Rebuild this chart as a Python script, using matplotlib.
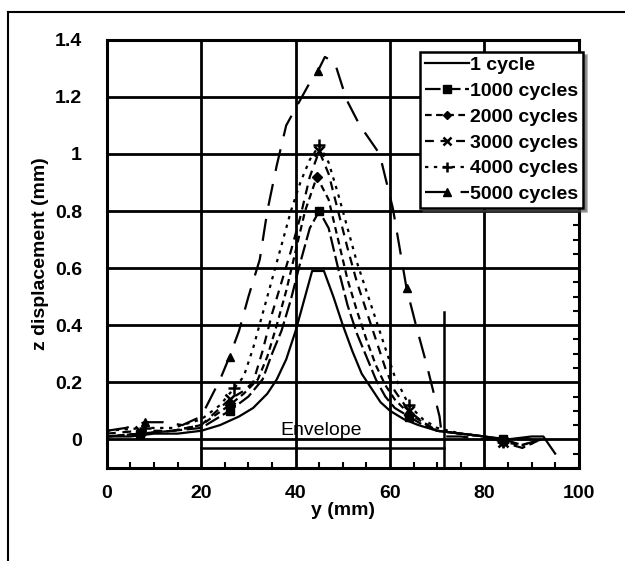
import matplotlib.pyplot as plt
from matplotlib.lines import Line2D

plt.rcParams['font.family'] = ['Liberation Sans', 'DejaVu Sans']
plt.rcParams['font.weight'] = 'bold'

# 1 cycle
x1 = [0, 5, 10, 15, 20, 24, 28, 31, 34, 36, 38, 40, 42, 43.5, 46, 48, 50, 52, 54, 56,
      58, 60, 63, 66, 70, 75, 80, 85, 90, 92.5, 95]
y1 = [0.01, 0.01, 0.02, 0.02, 0.03, 0.05, 0.08, 0.11, 0.16, 0.21, 0.28, 0.38, 0.50, 0.59,
      0.59, 0.50, 0.40, 0.31, 0.23, 0.18, 0.13, 0.10, 0.07, 0.05, 0.03, 0.02, 0.01, 0.00,
      0.01, 0.01, -0.05]
# 1000 cycles
x2 = [0, 7, 14, 20, 26, 30, 33, 35, 37, 39, 41, 43, 45, 47, 49, 51, 53, 55, 57, 59, 61,
      64, 67, 70, 75, 80, 84, 88, 92]
y2 = [0.01, 0.02, 0.03, 0.04, 0.10, 0.15, 0.21, 0.30, 0.38, 0.49, 0.62, 0.74, 0.80, 0.74,
      0.60, 0.47, 0.37, 0.29, 0.21, 0.15, 0.11, 0.08, 0.05, 0.03, 0.02, 0.01, 0.00, -0.02, 0.00]
# 2000 cycles
x3 = [0, 7, 14, 20, 26, 29, 32, 34, 36, 38, 40, 42, 44.5, 47, 49, 51, 53, 55, 57, 59, 61,
      64, 67, 70, 75, 80, 84, 88, 92]
y3 = [0.01, 0.02, 0.03, 0.05, 0.12, 0.16, 0.21, 0.29, 0.40, 0.52, 0.66, 0.80, 0.92, 0.84,
      0.70, 0.56, 0.45, 0.35, 0.26, 0.19, 0.14, 0.09, 0.06, 0.03, 0.02, 0.01, -0.01, -0.02, 0.00]
# 3000 cycles
x4 = [0, 7, 14, 20, 26, 29, 31, 33, 35, 37, 39, 41, 43, 45, 47, 49, 51, 53, 55, 57, 59,
      61, 64, 67, 70, 75, 80, 84, 88, 92]
y4 = [0.02, 0.03, 0.03, 0.05, 0.14, 0.17, 0.20, 0.31, 0.44, 0.55, 0.66, 0.78, 0.92, 1.01,
      0.93, 0.80, 0.67, 0.55, 0.45, 0.35, 0.25, 0.17, 0.10, 0.06, 0.03, 0.02, 0.01, -0.01,
      -0.03, 0.00]
# 4000 cycles
x5 = [0, 8, 14, 20, 24, 27, 29, 31, 33, 35, 37, 39, 41, 43, 45, 47, 49, 51, 53, 55, 57,
      59, 61, 64, 67, 70, 75, 80, 84, 88, 92]
y5 = [0.03, 0.04, 0.04, 0.07, 0.12, 0.18, 0.22, 0.32, 0.44, 0.56, 0.68, 0.80, 0.90, 0.98,
      1.03, 0.97, 0.86, 0.74, 0.62, 0.52, 0.42, 0.32, 0.22, 0.12, 0.07, 0.04, 0.02, 0.01,
      -0.01, -0.03, 0.00]
# 5000 cycles
x6 = [0, 4, 8, 12, 16, 20, 24, 26, 28, 30, 32.4, 34, 36, 38, 41, 43, 44.7, 46.2, 48.3,
      50.8, 53.6, 55.3, 57.8, 60.6, 63.5, 65.5, 67.8, 70.5, 71, 75, 80, 85, 90]
y6 = [0.03, 0.04, 0.06, 0.06, 0.05, 0.08, 0.21, 0.29, 0.38, 0.50, 0.63, 0.80, 0.96, 1.10,
      1.19, 1.25, 1.29, 1.34, 1.32, 1.19, 1.10, 1.06, 1.00, 0.81, 0.53, 0.40, 0.26, 0.08,
      0.01, 0.01, 0.00, 0.00, 0.00]

labels = ['1 cycle', '1000 cycles', '2000 cycles', '3000 cycles', '4000 cycles', '5000 cycles']

# envelope
env_x = [20, 71.5]
env_y = -0.03
env_top = 0.445

fig = plt.figure(figsize=(6.25, 5.61), dpi=100)
ax = fig.add_axes([0.171, 0.166, 0.755, 0.763])

ax.plot(x1, y1, color='black', lw=1.6, label=labels[0])
ax.plot(x2, y2, color='black', lw=1.6, dashes=(7, 2), marker='s', ms=6,
        markevery=[1, 4, 12, 21, 26], label=labels[1])
ax.plot(x3, y3, color='black', lw=1.6, dashes=(3, 2), marker='D', ms=5,
        markevery=[1, 4, 12, 21, 26], label=labels[2])
ax.plot(x4, y4, color='black', lw=1.6, dashes=(4, 3), marker='x', ms=7, mew=1.8,
        markevery=[1, 4, 13, 22, 27], label=labels[3])
ax.plot(x5, y5, color='black', lw=1.6, dashes=(1.5, 2.5), marker='+', ms=8, mew=1.8,
        markevery=[1, 5, 14, 23, 28], label=labels[4])
ax.plot(x6, y6, color='black', lw=1.6, dashes=(10, 6), marker='^', ms=6,
        markevery=[2, 7, 16, 24], label=labels[5])

ax.plot(env_x, [env_y, env_y], color='black', lw=1.8)
ax.plot([env_x[1], env_x[1]], [-0.1, env_top], color='black', lw=1.8)
ax.text(45.5, 0.03, 'Envelope', ha='center', va='center', fontsize=14, fontweight='normal')

ax.set_xlim(0, 100)
ax.set_ylim(-0.1, 1.4)
ax.set_xticks([0, 20, 40, 60, 80, 100])
ax.set_yticks([0, 0.2, 0.4, 0.6, 0.8, 1, 1.2, 1.4])
ax.set_yticklabels(['0', '0.2', '0.4', '0.6', '0.8', '1', '1.2', '1.4'])
ax.set_xticks(range(0, 101, 5), minor=True)
ax.grid(True, which='major', color='black', lw=2)
ax.tick_params(axis='x', which='major', labelsize=14, length=0, pad=12)
ax.tick_params(axis='y', which='major', labelsize=14, length=0, pad=18)
ax.tick_params(axis='x', which='minor', direction='in', length=4, width=1.5, top=False)
ax.tick_params(axis='y', which='minor', direction='in', length=4, width=1.5, right=True, left=False)
ax.set_yticks([v / 100 for v in range(-10, 141, 5)], minor=True)
for sp in ax.spines.values():
    sp.set_linewidth(2.2)

ax.set_xlabel('y (mm)', fontsize=14, fontweight='bold', labelpad=0)
ax.set_ylabel('z displacement (mm)', fontsize=14, fontweight='bold', labelpad=4)

leg = ax.legend(loc='upper left', bbox_to_anchor=(0.663, 0.972), fontsize=14,
                frameon=True, fancybox=False, shadow=True, edgecolor='black',
                handlelength=2.3, handletextpad=0.05, borderpad=0.25, labelspacing=0.42,
                borderaxespad=0, markerscale=0.9)
leg.get_frame().set_linewidth(1.8)

# page border
fig.add_artist(Line2D([0.0128, 0.0128], [0, 0.979], color='black', lw=1.5))
fig.add_artist(Line2D([0.0128, 1], [0.979, 0.979], color='black', lw=1.5))

fig.savefig('out.png', dpi=100)
